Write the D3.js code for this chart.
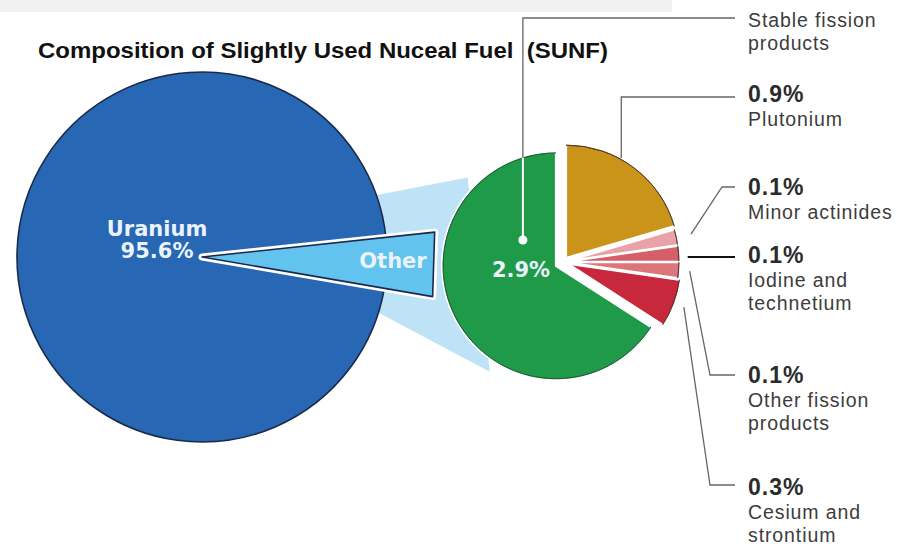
<!DOCTYPE html>
<html lang="en">
<head>
<meta charset="UTF-8">
<title>Composition of SUNF</title>
<style>
  body { margin: 0; background: #fff; }
  svg { display: block; }
</style>
</head>
<body>
<svg id="chart" width="907" height="548"></svg>
<script src="https://cdn.jsdelivr.net/npm/d3@7"></script>
<script>
// big pie: uranium vs the rest
const bigLabels = ["Other", "Uranium"];
const bigValues = [4.4, 95.6];

// small pie: what "Other" is made of (clockwise from 12 o'clock)
const smallLabels = [["Plutonium"], ["Minor actinides"], ["Iodine and", "technetium"],
                     ["Other fission", "products"], ["Cesium and", "strontium"], ["Stable fission", "products"]];
const smallValues = [0.9, 0.1, 0.1, 0.1, 0.3, 2.9];
const smallColors = ["#c99419", "#e9a2a6", "#d55f68", "#dc767b", "#c7283c", "#1f9a49"];

const title = "Composition of Slightly Used Nuceal Fuel  (SUNF)";

const deg = Math.PI / 180;
const fmt = v => d3.format(".1f")(v) + "%";
const svg = d3.select("#chart");
const sans = "Liberation Sans, Arial, Helvetica, sans-serif";
const wide = "DejaVu Sans, Verdana, sans-serif";

const big = { cx: 202, cy: 257, r: 185 };
const small = { cx: 563, cy: 262, r: 114 };
const pt = (c, a, r) => [c.cx + Math.sin(a) * r, c.cy - Math.cos(a) * r];

// faint strip on top of the scan
svg.append("rect").attr("width", 672).attr("height", 12).attr("fill", "#f0f0f0");

svg.append("text")
  .attr("x", 38).attr("y", 58)
  .attr("textLength", 570).attr("lengthAdjust", "spacingAndGlyphs")
  .attr("font-family", sans).attr("font-weight", "bold").attr("font-size", 21.5)
  .attr("xml:space", "preserve")
  .attr("fill", "#111")
  .text(title);

// pie layouts
const bigArcs = d3.pie().sort(null).startAngle(83.9 * deg).endAngle(443.9 * deg)(bigValues);
const other = bigArcs[0];
const smallArcs = d3.pie().sort(null)(smallValues);
const explode = [5, 3, 3, 3, 5, 8];
const sliceC = smallArcs.map((d, i) => {
  const m = (d.startAngle + d.endAngle) / 2;
  return { cx: small.cx + Math.sin(m) * explode[i], cy: small.cy - Math.cos(m) * explode[i] };
});
const greenC = sliceC[5];

// light blue connector band
const band = [pt(big, 69.7 * deg, 170), pt(greenC, 315 * deg, 125),
              pt(greenC, 212 * deg, 125), pt(big, 106.6 * deg, 170)];
svg.append("path").attr("d", d3.line()(band) + "Z").attr("fill", "#bfe3f6");

// uranium slice
svg.append("path")
  .attr("transform", `translate(${big.cx},${big.cy})`)
  .attr("d", d3.arc().innerRadius(0).outerRadius(big.r)(bigArcs[1]))
  .attr("fill", "#2767b4").attr("stroke", "#1b2a4b").attr("stroke-width", 1.6);

// "Other" wedge, pulled out with a straight outer edge
const wedge = [[big.cx, big.cy], pt(big, other.startAngle, 234), pt(big, other.endAngle, 234)];
svg.append("path").attr("d", d3.line()(wedge) + "Z")
  .attr("fill", "none").attr("stroke", "#fff").attr("stroke-width", 7).attr("stroke-linejoin", "round");
svg.append("path").attr("d", d3.line()(wedge) + "Z")
  .attr("fill", "#62c3ef").attr("stroke", "#1b2a4b").attr("stroke-width", 1.6).attr("stroke-linejoin", "round");

// small pie
const arc = d3.arc().innerRadius(0).outerRadius(small.r);
const rim = d3.arc().innerRadius(small.r - 1.1).outerRadius(small.r - 1.1);
const slices = svg.append("g").selectAll("g").data(smallArcs).join("g")
  .attr("transform", (d, i) => `translate(${sliceC[i].cx},${sliceC[i].cy})`);
slices.append("path").attr("d", arc)
  .attr("fill", (d, i) => smallColors[i]).attr("stroke", "#fff").attr("stroke-width", 2.2);
slices.append("path").attr("d", rim)
  .attr("fill", "none").attr("stroke", (d, i) => i === 5 ? "#14532b" : "#4a2a1e")
  .attr("stroke-width", 0.9).attr("opacity", 0.8);

// leader lines
const lx = 735, tx = 748;
const leaderY = [97, 187, 257, 375, 485, 18];
const labelBase = [102, 195, 263, 383, 495, 27];
const mid = d => (d.startAngle + d.endAngle) / 2;

const leaders = smallArcs.map((d, i) => {
  const c = sliceC[i];
  if (i === 0) {
    const s = pt(c, 29 * deg, small.r);
    return `M${s[0]},${s[1]}V${leaderY[i]}H${lx}`;
  }
  if (i === 1) {
    const s = pt(c, mid(d), small.r + 14);
    return `M${s[0]},${s[1]}L${lx - 13},${leaderY[i]}H${lx}`;
  }
  if (i === 2) {
    const s = pt(c, mid(d), small.r + 8);
    return `M${s[0]},${leaderY[i]}H${lx}`;
  }
  if (i === 3 || i === 4) {
    const s = pt(c, mid(d), small.r + 10);
    return `M${s[0]},${s[1]}L${lx - 25},${leaderY[i]}H${lx}`;
  }
  return null;
});

svg.append("g").selectAll("path").data(leaders.filter(p => p)).join("path")
  .attr("d", p => p).attr("fill", "none")
  .attr("stroke", (p, i) => i === 2 ? "#111" : "#666")
  .attr("stroke-width", (p, i) => i === 2 ? 1.8 : 1.3);

// stable fission products leader: dot inside the green slice
const dot = pt(greenC, 308 * deg, 42);
svg.append("path").attr("d", `M${dot[0]},${dot[1]}V${leaderY[5]}H${lx}`)
  .attr("fill", "none").attr("stroke", "#666").attr("stroke-width", 1.3);
const greenTop = greenC.cy - Math.sqrt(small.r * small.r - (dot[0] - greenC.cx) ** 2);
svg.append("line").attr("x1", dot[0]).attr("x2", dot[0]).attr("y1", dot[1]).attr("y2", greenTop + 1)
  .attr("stroke", "#fff").attr("stroke-width", 2);
svg.append("circle").attr("cx", dot[0]).attr("cy", dot[1]).attr("r", 4.5).attr("fill", "#fff");

// right-hand labels
const labels = svg.append("g").selectAll("g").data(smallArcs).join("g");
labels.each(function (d, i) {
  const g = d3.select(this);
  let y = labelBase[i];
  if (i !== 5) {
    g.append("text").attr("x", tx).attr("y", y)
      .attr("font-family", sans).attr("font-weight", "bold").attr("font-size", 23)
      .attr("letter-spacing", 1)
      .attr("fill", "#2b2b2b").text(fmt(d.data));
    y += 24;
  }
  smallLabels[i].forEach((line, k) => {
    g.append("text").attr("x", tx).attr("y", y + k * 23)
      .attr("font-family", sans).attr("font-size", 19.5)
      .attr("letter-spacing", 0.9)
      .attr("fill", "#3c3c3c").text(line);
  });
});

// labels inside the pies
function inner(x, y, t) {
  svg.append("text").attr("x", x).attr("y", y).attr("text-anchor", "middle")
    .attr("font-family", wide).attr("font-weight", "bold").attr("font-size", 21)
    .attr("fill", "#eaf3fb").text(t);
}
inner(157, 236, bigLabels[1]);
inner(157, 258, fmt(bigValues[1]));
inner(393, 268, bigLabels[0]);
inner(521, 277, fmt(smallValues[5]));
</script>
</body>
</html>
